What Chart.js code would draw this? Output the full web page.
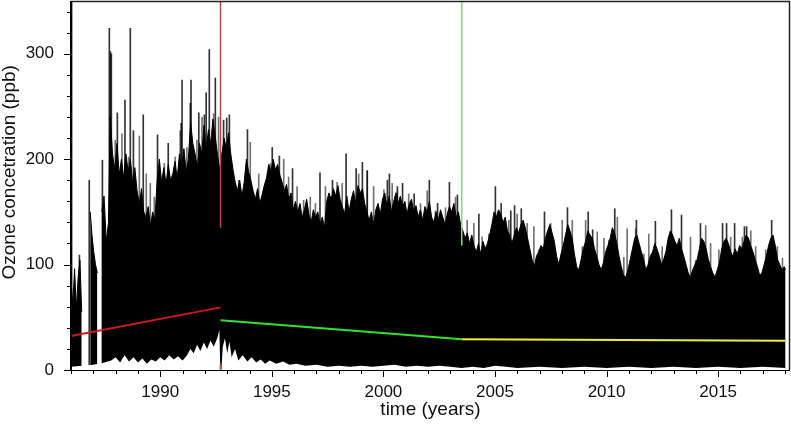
<!DOCTYPE html>
<html lang="en">
<head>
  <meta charset="UTF-8">
  <title>Ozone concentration</title>
  <script src="https://cdn.jsdelivr.net/npm/chart.js@4/dist/chart.umd.min.js"></script>
  <style>
    html, body { margin: 0; padding: 0; background: #fff; }
    #wrap { width: 791px; height: 425px; }
  </style>
</head>
<body>
  <div id="wrap"><canvas id="ozoneChart"></canvas></div>

  <script>
    // upper edge of the hourly series (ppb), null = no data
    const envYears = [1986.00,1986.08,1986.16,1986.24,1986.32,1986.40,1986.48,1986.52,
      1986.86,1986.94,1987.02,1987.10,1987.18,1987.24,
      1987.38,1987.48,1987.58,1987.68,1987.76,1987.86,1987.96,1988.06,1988.16,1988.26,1988.36,1988.46,1988.56,1988.66,1988.76,1988.86,1988.96,
      1989.06,1989.16,1989.26,1989.36,1989.46,1989.56,1989.66,1989.76,1989.86,1989.96,
      1990.06,1990.16,1990.26,1990.36,1990.46,1990.56,1990.66,1990.76,1990.86,1990.96,
      1991.06,1991.16,1991.26,1991.36,1991.46,1991.56,1991.66,1991.76,1991.86,1991.96,
      1992.06,1992.16,1992.26,1992.36,1992.46,1992.56,1992.66,1992.76,1992.86,1992.96,
      1993.06,1993.16,1993.26,1993.36,1993.46,1993.56,1993.66,1993.76,1993.86,1993.96,
      1994.06,1994.16,1994.26,1994.36,1994.46,1994.56,1994.66,1994.76,1994.86,1994.96,
      1995.06,1995.16,1995.26,1995.36,1995.46,1995.56,1995.66,1995.76,1995.86,1995.96,
      1996.06,1996.16,1996.26,1996.36,1996.46,1996.56,1996.66,1996.76,1996.86,1996.96,
      1997.06,1997.16,1997.26,1997.36,1997.46,1997.56,1997.66,1997.76,1997.86,1997.96,
      1998.06,1998.16,1998.26,1998.36,1998.46,1998.56,1998.66,1998.76,1998.86,1998.96,
      1999.06,1999.16,1999.26,1999.36,1999.46,1999.56,1999.66,1999.76,1999.86,1999.96,
      2000.06,2000.16,2000.26,2000.36,2000.46,2000.56,2000.66,2000.76,2000.86,2000.96,
      2001.06,2001.16,2001.26,2001.36,2001.46,2001.56,2001.66,2001.76,2001.86,2001.96,
      2002.06,2002.16,2002.26,2002.36,2002.46,2002.56,2002.66,2002.76,2002.86,2002.96,
      2003.06,2003.16,2003.26,2003.36,2003.46,2003.56,2003.66,2003.76,2003.86,2003.96,
      2004.06,2004.16,2004.26,2004.36,2004.46,2004.56,2004.66,2004.76,2004.86,2004.96,
      2005.06,2005.16,2005.26,2005.36,2005.46,2005.56,2005.66,2005.76,2005.86,2005.96,
      2006.06,2006.16,2006.26,2006.36,2006.46,2006.56,2006.66,2006.76,2006.86,2006.96,
      2007.06,2007.16,2007.26,2007.36,2007.46,2007.56,2007.66,2007.76,2007.86,2007.96,
      2008.06,2008.16,2008.26,2008.36,2008.46,2008.56,2008.66,2008.76,2008.86,2008.96,
      2009.06,2009.16,2009.26,2009.36,2009.46,2009.56,2009.66,2009.76,2009.86,2009.96,
      2010.06,2010.16,2010.26,2010.36,2010.46,2010.56,2010.66,2010.76,2010.86,2010.96,
      2011.06,2011.16,2011.26,2011.36,2011.46,2011.56,2011.66,2011.76,2011.86,2011.96,
      2012.06,2012.16,2012.26,2012.36,2012.46,2012.56,2012.66,2012.76,2012.86,2012.96,
      2013.06,2013.16,2013.26,2013.36,2013.46,2013.56,2013.66,2013.76,2013.86,2013.96,
      2014.06,2014.16,2014.26,2014.36,2014.46,2014.56,2014.66,2014.76,2014.86,2014.96,
      2015.06,2015.16,2015.26,2015.36,2015.46,2015.56,2015.66,2015.76,2015.86,2015.96,
      2016.06,2016.16,2016.26,2016.36,2016.46,2016.56,2016.66,2016.76,2016.86,2016.96,
      2017.06,2017.16,2017.26,2017.36,2017.46,2017.56,2017.66,2017.76,2017.86,2017.96,2018.02];
    const envHigh = [85,62,96,58,88,104,55,null,
      150,128,112,100,92,null,
      150,165,122,140,240,205,190,215,185,200,182,205,188,200,178,192,170,
      158,172,150,145,155,136,150,142,180,200,
      178,192,176,195,180,186,198,182,205,192,
      210,188,200,235,215,205,192,215,205,232,
      210,228,215,238,222,205,190,205,220,210,
      225,205,190,178,170,180,165,178,200,188,
      180,170,162,172,158,166,175,182,195,188,
      200,190,195,185,178,170,176,162,168,152,
      160,150,158,145,152,162,148,140,152,145,
      150,138,145,135,160,168,162,172,165,175,
      162,155,148,165,150,162,170,158,175,168,
      172,158,150,142,150,138,152,158,148,162,
      168,155,165,150,160,168,158,165,155,160,
      148,158,162,150,156,145,152,142,155,150,
      160,145,140,150,142,152,145,138,148,155,
      150,158,145,150,138,132,125,130,120,128,
      118,112,120,110,122,115,120,128,138,150,
      145,152,148,140,145,132,128,120,128,135,
      130,138,142,135,125,115,105,98,108,112,
      118,115,125,132,138,130,122,108,100,110,
      118,128,138,132,125,110,98,95,105,115,
      122,132,128,125,115,108,100,95,102,112,
      118,125,135,130,120,108,98,90,88,95,
      105,115,125,128,120,112,105,95,100,108,
      112,120,115,108,100,105,112,125,132,128,
      122,118,125,115,108,100,92,88,95,100,
      105,115,125,122,115,105,98,92,88,95,
      102,115,122,125,120,112,108,115,110,118,
      115,122,128,125,118,112,105,98,90,92,
      100,108,118,125,128,118,105,100,95,98,95];

    // lower edge of the series (ppb)
    const lowYears = [1986.00,1986.50,1987.00,1987.50,1987.80,1988.00,1988.20,1988.40,1988.60,1988.80,
      1989.00,1989.20,1989.40,1989.60,1989.80,1990.00,1990.20,1990.40,1990.60,1990.80,
      1991.00,1991.20,1991.35,1991.50,1991.65,1991.80,1991.95,1992.10,1992.25,1992.40,1992.55,1992.65,
      1992.69,1992.74,1992.80,1992.90,1993.00,1993.10,1993.20,1993.35,1993.50,1993.70,1993.90,
      1994.10,1994.30,1994.50,1994.70,1994.90,1995.20,1995.50,1995.80,1996.10,1996.50,
      1997.00,1997.50,1998.00,1998.50,1999.00,1999.50,2000.00,2000.50,2001.00,2001.50,
      2002.00,2002.50,2003.00,2003.50,2004.00,2004.50,2005.00,2005.50,2006.00,2007.00,
      2008.00,2009.00,2010.00,2011.00,2012.00,2013.00,2014.00,2015.00,2016.00,2017.00,2018.02];
    const lowVals = [3,4,5,7,9,12,7,14,8,12,
      7,11,6,10,8,12,9,14,10,13,
      9,14,20,16,24,18,26,20,28,22,30,38,
      0,0,22,30,16,27,12,20,9,14,8,
      12,7,10,6,9,6,8,5,6,4,
      5,3,4,3,4,3,4,5,3,4,
      3,4,3,2,3,2,4,3,2,3,
      2,3,2,3,2,3,2,3,2,3,2];

    // single tall hourly peaks
    const spikeYears = [1986.05,1986.40,1986.84,1987.43,1987.74,1987.79,1987.83,1988.10,1988.44,1988.68,
      1988.82,1989.26,1989.90,1990.38,1990.96,1991.00,1991.37,1991.40,1991.75,1992.00,
      1992.08,1992.22,1992.49,1992.86,1993.00,1993.12,1993.93,1995.04,1995.36,1995.95,
      1997.18,1997.74,1998.35,1998.80,1999.08,1999.30,2000.20,2000.29,2000.65,2000.88,
      2001.40,2002.08,2002.45,2002.98,2003.34,2004.30,2005.04,2005.30,2005.73,2005.90,
      2006.20,2007.24,2008.27,2009.20,2009.40,2010.39,2011.36,2012.21,2012.93,2013.38,
      2014.23,2015.22,2015.40,2015.76,2016.20,2016.30,2017.42];
    const spikeTops = [350,109,180,199,324,302,300,244,256,324,
      227,242,223,215,234,275,253,275,244,242,
      263,304,277,237,239,242,228,211,203,191,
      187,180,205,191,197,189,180,186,174,177,
      167,180,158,178,166,148,174,158,151,156,
      153,150,154,150,133,153,142,141,152,147,
      139,139,139,139,136,136,142];

    // lighter peaks just above the dense band
    const grayYears = [1987.96,1988.26,1988.56,1989.04,1989.35,1989.53,1989.71,1990.16,1990.65,1990.87,
      1991.17,1991.62,1991.85,1992.37,1992.59,1992.97,1993.49,1994.01,1994.39,1994.69,
      1994.91,1995.51,1995.73,1996.11,1996.40,1996.70,1996.93,1997.38,1997.90,1998.13,
      1998.57,1998.87,1999.25,1999.54,1999.77,2000.00,2000.37,2000.59,2001.11,2001.64,
      2001.94,2002.31,2002.76,2003.21,2003.73,2004.03,2004.40,2004.70,2005.60,2005.97,
      2006.42,2006.72,2006.94,2007.47,2007.99,2008.44,2008.89,2009.04,2009.56,2009.86,
      2010.08,2010.46,2010.75,2010.90,2011.28,2011.65,2011.87,2012.47,2012.70,2013.07,
      2013.74,2013.97,2014.42,2014.64,2015.01,2015.54,2016.06,2016.44,2016.66,2017.11,
      2017.63,2017.86];
    const grayTops = [218,224,202,222,186,177,164,196,202,227,
      211,218,240,243,240,211,180,216,186,174,
      196,200,183,174,161,164,158,174,178,177,
      162,186,189,174,148,171,177,169,167,158,
      170,151,154,164,142,139,126,129,142,148,
      139,136,114,139,142,142,117,142,131,125,
      123,145,107,134,134,110,129,117,110,114,
      126,104,137,120,114,126,126,132,117,114,
      117,106];

    // piecewise trends and change points
    const breakRed = 1992.70, breakGreen = 2003.51;
    const trendRedX = [1986.0, breakRed],    trendRedY = [32.2, 59.4];
    const trendGreenX = [breakRed, breakGreen], trendGreenY = [47.1, 29.1];
    const trendYellowX = [breakGreen, 2018.0], trendYellowY = [29.1, 27.8];

    const xMajorTicks = [1990, 1995, 2000, 2005, 2010, 2015];
    const yMajorTicks = [0, 100, 200, 300];
    const xMinorStep = 1, yMinorStep = 20;

    const FONT = "'Liberation Sans', Arial, Helvetica, sans-serif";
    const toPts = (xs, ys) => xs.map((x, i) => ({x, y: ys[i]}));
    const toBars = (xs, ys) => xs.map((x, i) => ({x, y: [0, ys[i]]}));

    // frame, axis lines and major/minor tick marks
    const axisFrame = {
      id: 'axisFrame',
      afterDraw(chart) {
        const {ctx, chartArea: a, scales: {x, y}} = chart;
        ctx.save();
        ctx.strokeStyle = '#222';
        ctx.lineWidth = 1.5;
        ctx.beginPath();
        ctx.moveTo(a.left, a.top + 0.5); ctx.lineTo(a.right, a.top + 0.5);
        ctx.moveTo(a.right - 0.5, a.top); ctx.lineTo(a.right - 0.5, a.bottom);
        ctx.stroke();
        ctx.strokeStyle = '#000';
        ctx.lineWidth = 2;
        ctx.beginPath();
        ctx.moveTo(a.left, a.top); ctx.lineTo(a.left, a.bottom + 1);
        ctx.stroke();
        ctx.lineWidth = 1;
        ctx.beginPath();
        ctx.moveTo(a.left, a.bottom + 0.5); ctx.lineTo(a.right, a.bottom + 0.5);
        for (let yr = Math.ceil(x.min); yr <= x.max; yr += xMinorStep) {
          const px = Math.round(x.getPixelForValue(yr)) + 0.5;
          const len = xMajorTicks.includes(yr) ? 7 : 4;
          ctx.moveTo(px, a.bottom); ctx.lineTo(px, a.bottom + len);
        }
        for (let v = 0; v <= y.max; v += yMinorStep) {
          const py = Math.round(y.getPixelForValue(v)) + 0.5;
          const len = yMajorTicks.includes(v) ? 7 : 4;
          ctx.moveTo(a.left, py); ctx.lineTo(a.left - len, py);
        }
        ctx.stroke();
        ctx.restore();
      }
    };

    const ctx = document.getElementById('ozoneChart').getContext('2d');
    new Chart(ctx, {
      type: 'line',
      data: {
        datasets: [
          { label: 'Ozone', data: toPts(envYears, envHigh), borderColor: '#000', borderWidth: 1,
            backgroundColor: '#000', fill: 'origin', pointRadius: 0, spanGaps: false, order: 9 },
          { type: 'bar', label: 'peaks', data: toBars(spikeYears, spikeTops),
            backgroundColor: 'rgba(0,0,0,0.8)', barThickness: 1, order: 8 },
          { type: 'bar', label: 'small peaks', data: toBars(grayYears, grayTops),
            backgroundColor: 'rgba(0,0,0,0.55)', barThickness: 1, order: 8 },
          { label: 'low', data: toPts(lowYears, lowVals), borderColor: '#fff', borderWidth: 0,
            backgroundColor: '#fff', fill: 'origin', pointRadius: 0, order: 7 },
          { label: 'break 1', data: [{x: breakRed, y: 0}, {x: breakRed, y: 6}, {x: breakRed, y: null},
              {x: breakRed, y: 135}, {x: breakRed, y: 350}],
            borderColor: '#d83a3a', borderWidth: 1.5, pointRadius: 0, fill: false, order: 3 },
          { label: 'break 2', data: [{x: breakGreen, y: 118}, {x: breakGreen, y: 350}],
            borderColor: '#74e274', borderWidth: 1.5, pointRadius: 0, fill: false, order: 3 },
          { label: 'trend 1', data: toPts(trendRedX, trendRedY), borderColor: '#cc1a1a', borderWidth: 2,
            pointRadius: 0, fill: false, order: 1 },
          { label: 'trend 2', data: toPts(trendGreenX, trendGreenY), borderColor: '#2fe22f', borderWidth: 2,
            pointRadius: 0, fill: false, order: 1 },
          { label: 'trend 3', data: toPts(trendYellowX, trendYellowY), borderColor: '#eeee3a', borderWidth: 2,
            pointRadius: 0, fill: false, order: 1 }
        ]
      },
      options: {
        responsive: true,
        maintainAspectRatio: false,
        animation: false,
        events: [],
        layout: { padding: { top: 1, right: 1, left: 0, bottom: 0 } },
        plugins: { legend: { display: false }, tooltip: { enabled: false } },
        scales: {
          x: {
            type: 'linear', min: 1986, max: 2018.22, offset: false,
            afterBuildTicks: s => { s.ticks = xMajorTicks.map(v => ({value: v})); },
            afterFit: s => { s.height = 55; s.paddingLeft = 0; s.paddingRight = 0; },
            grid: { display: false }, border: { display: false },
            ticks: { font: { family: FONT, size: 17 }, color: '#111', padding: 4,
                     maxRotation: 0, autoSkip: false, callback: v => String(v) },
            title: { display: true, text: 'time (years)', color: '#111',
                     font: { family: FONT, size: 19 }, padding: { top: 0, bottom: 4 } }
          },
          y: {
            min: 0, max: 350,
            afterBuildTicks: s => { s.ticks = yMajorTicks.map(v => ({value: v})); },
            afterFit: s => { s.width = 71; s.paddingTop = 0; s.paddingBottom = 0; },
            grid: { display: false }, border: { display: false },
            ticks: { font: { family: FONT, size: 17 }, color: '#111', padding: 9,
                     callback: v => String(v) },
            title: { display: true, text: '\u00a0\u00a0\u00a0\u00a0\u00a0Ozone concetration (ppb)', color: '#111',
                     font: { family: FONT, size: 19, lineHeight: 1 }, padding: 0 }
          }
        }
      },
      plugins: [axisFrame]
    });
  </script>
</body>
</html>
